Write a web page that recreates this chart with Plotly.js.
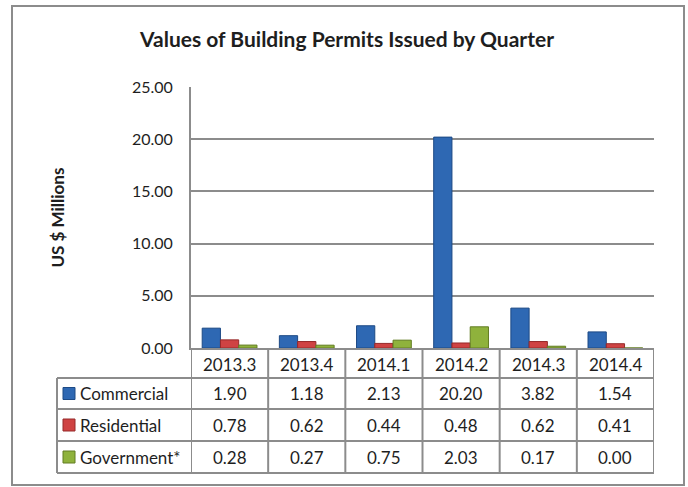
<!DOCTYPE html>
<html>
<head>
<meta charset="utf-8">
<script src="https://cdn.plot.ly/plotly-3.0.1.min.js"></script>
<style>html,body{margin:0;padding:0;background:#fff;}#chart{width:688px;height:487px;}</style>
</head>
<body>
<div id="chart"></div>
<script>
// ---- data ----
var categories = ['2013.3', '2013.4', '2014.1', '2014.2', '2014.3', '2014.4'];
var commercial = [1.90, 1.18, 2.13, 20.20, 3.82, 1.54];
var residential = [0.78, 0.62, 0.44, 0.48, 0.62, 0.41];
var government = [0.28, 0.27, 0.75, 2.03, 0.17, 0.00];
var seriesNames = ['Commercial', 'Residential', 'Government*'];
var yTicks = [0, 5, 10, 15, 20, 25];

// ---- styling ----
var colors = ['#2e68b3', '#cf4343', '#8fb23c'];
var edges = ['#1d4a85', '#962a2a', '#627d22'];
var gridCol = '#8c8c8c';
var textCol = '#1e1e1e';
var FONT = 'Lato, "Open Sans", sans-serif';

// plot area in pixels
var L = 191, R = 654, T = 87, B = 348;
function px(x) { return (x - L) / (R - L); }
function py(y) { return (B - y) / (B - T); }

var seriesValues = [commercial, residential, government];
var traces = seriesValues.map(function (vals, i) {
  return {
    type: 'bar', x: categories, y: vals, name: seriesNames[i],
    marker: { color: colors[i], line: { color: edges[i], width: 1 } },
    hoverinfo: 'none'
  };
});

var shapes = [];
var annotations = [];
function line(x0, y0, x1, y1, xref) {
  shapes.push({ type: 'line', xref: xref || 'paper', yref: 'paper', x0: x0, y0: y0, x1: x1, y1: y1,
    line: { color: gridCol, width: 2 } });
}
function note(xref, x, y, text, opts) {
  var a = { xref: xref, yref: 'paper', x: x, y: y, text: text, showarrow: false,
    xanchor: 'center', yanchor: 'middle', font: { family: FONT, size: 17, color: textCol } };
  for (var k in (opts || {})) a[k] = opts[k];
  annotations.push(a);
}

// outer border
shapes.push({ type: 'rect', xref: 'paper', yref: 'paper', x0: px(12), x1: px(684), y0: py(6), y1: py(485),
  line: { color: gridCol, width: 2 }, fillcolor: 'rgba(0,0,0,0)' });

// table rows
var rowEdges = [348, 378, 409, 441, 473];
for (var r = 1; r < rowEdges.length; r++) line(px(57), py(rowEdges[r]), 1, py(rowEdges[r]));
// table columns
for (var c = 0; c <= categories.length; c++) line(c - 0.5, py(348), c - 0.5, py(473), 'x');
line(px(57), py(378), px(57), py(473));

// header labels
categories.forEach(function (cat, j) {
  note('x', j, py((rowEdges[0] + rowEdges[1]) / 2 + 1), cat);
});
// value cells and row labels
seriesValues.forEach(function (vals, i) {
  var ym = (rowEdges[i + 1] + rowEdges[i + 2]) / 2;
  vals.forEach(function (v, j) {
    note('x', j, py(ym), v.toFixed(2));
  });
  note('paper', px(78), py(ym), seriesNames[i], { xanchor: 'left' });
  shapes.push({ type: 'rect', xref: 'paper', yref: 'paper', x0: px(63), x1: px(75), y0: py(ym - 6), y1: py(ym + 6),
    fillcolor: colors[i], line: { color: edges[i], width: 1 } });
});

// y axis title
note('paper', px(57), py((T + B) / 2), '<b>US $ Millions</b>', { textangle: -90,
  font: { family: FONT, size: 17, color: textCol } });

var layout = {
  width: 688, height: 487,
  margin: { l: L, r: 688 - R, t: T, b: 487 - B, pad: 0 },
  paper_bgcolor: '#fff', plot_bgcolor: '#fff',
  title: { text: '<b>Values of Building Permits Issued by Quarter</b>', xref: 'container', yref: 'container',
    x: 347 / 688, y: 1 - 40 / 487, xanchor: 'center', yanchor: 'middle',
    font: { family: FONT, size: 21, color: textCol } },
  showlegend: false,
  barmode: 'group', bargap: 0.29, bargroupgap: 0,
  xaxis: { type: 'category', range: [-0.5, 5.5], showticklabels: false, showgrid: false, zeroline: false,
    showline: true, linecolor: gridCol, linewidth: 2, ticks: '', fixedrange: true },
  yaxis: { range: [0, 25], tickvals: yTicks, ticktext: yTicks.map(function (v) { return v.toFixed(2); }),
    showgrid: true, gridcolor: gridCol, gridwidth: 2, zeroline: false,
    showline: true, linecolor: gridCol, linewidth: 2, ticks: '', ticklabelstandoff: 13,
    tickfont: { family: FONT, size: 16, color: textCol }, fixedrange: true },
  shapes: shapes,
  annotations: annotations
};

Plotly.newPlot('chart', traces, layout, { staticPlot: true, displayModeBar: false });
</script>
</body>
</html>
